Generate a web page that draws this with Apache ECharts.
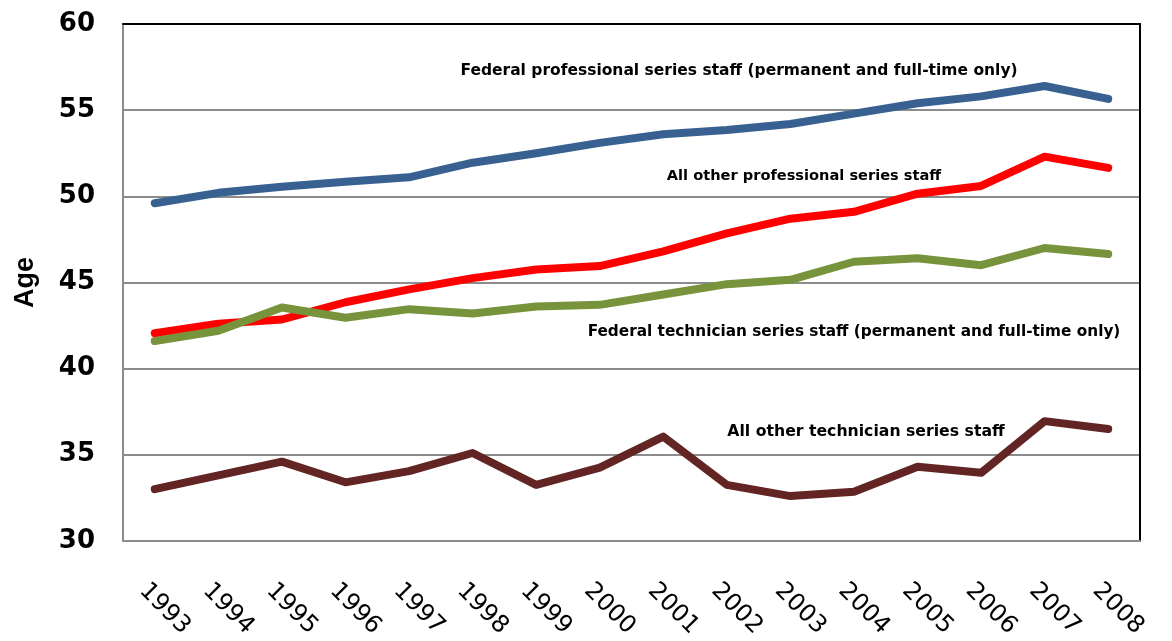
<!DOCTYPE html>
<html>
<head>
<meta charset="utf-8">
<script src="https://cdn.jsdelivr.net/npm/echarts@6/dist/echarts.min.js"></script>
<style>
html,body{margin:0;padding:0;background:#fff;}
#chart{width:1172px;height:641px;}
</style>
</head>
<body>
<div id="chart"></div>
<script>
const years = ['1993','1994','1995','1996','1997','1998','1999','2000','2001','2002','2003','2004','2005','2006','2007','2008'];
const federalProfessional = [49.6, 50.2, 50.55, 50.85, 51.1, 51.95, 52.5, 53.1, 53.6, 53.85, 54.2, 54.8, 55.4, 55.8, 56.4, 55.65];
const otherProfessional = [42.05, 42.6, 42.85, 43.85, 44.6, 45.25, 45.75, 45.95, 46.8, 47.85, 48.7, 49.1, 50.15, 50.6, 52.3, 51.65];
const federalTechnician = [41.6, 42.2, 43.55, 42.95, 43.45, 43.2, 43.6, 43.7, 44.3, 44.9, 45.15, 46.2, 46.4, 46.0, 47.0, 46.65];
const otherTechnician = [33.0, 33.8, 34.6, 33.4, 34.05, 35.1, 33.25, 34.25, 36.05, 33.25, 32.6, 32.85, 34.3, 33.95, 36.95, 36.5];
const yTicks = [30, 35, 40, 45, 50, 55, 60];
const labels = {
  fedPro: 'Federal professional series staff (permanent and full-time only)',
  othPro: 'All other professional series staff',
  fedTech: 'Federal technician series staff (permanent and full-time only)',
  othTech: 'All other technician series staff'
};

const chart = echarts.init(document.getElementById('chart'), null, {renderer: 'canvas'});
const mkLine = (name, data, color) => ({
  name, type: 'line', data, symbol: 'none', smooth: false,
  lineStyle: {width: 8, color, cap: 'round', join: 'round'},
  itemStyle: {color}, z: 3
});
const txt = (text, x, y, size) => ({
  type: 'text', x, y, z: 10,
  style: {text, font: 'bold ' + size + 'px "DejaVu Sans", sans-serif', fill: '#000', textAlign: 'center', textVerticalAlign: 'middle'}
});
chart.setOption({
  animation: false,
  backgroundColor: '#fff',
  grid: {left: 123, right: 32, top: 24, bottom: 100},
  xAxis: [{
    type: 'category', data: years, boundaryGap: true, position: 'bottom',
    axisLine: {show: true, lineStyle: {color: '#8c8c8c', width: 2}},
    axisTick: {show: false},
    axisLabel: {rotate: -45, margin: 58, align: 'center', verticalAlign: 'middle', padding: [0, 0, 0, 28], fontSize: 24, color: '#000', fontFamily: '"DejaVu Sans", sans-serif', interval: 0},
    splitLine: {show: false}
  }, {
    type: 'category', data: years, position: 'top',
    axisLine: {show: true, lineStyle: {color: '#000', width: 2}},
    axisTick: {show: false}, axisLabel: {show: false}
  }],
  yAxis: [{
    type: 'value', min: yTicks[0], max: yTicks[yTicks.length - 1], interval: 5,
    name: 'Age', nameLocation: 'middle', nameGap: 84, nameRotate: 90,
    nameTextStyle: {fontSize: 27, fontWeight: 'bold', color: '#000', fontFamily: '"Liberation Sans", Arial, sans-serif'},
    axisLine: {show: true, lineStyle: {color: '#8c8c8c', width: 2}},
    axisTick: {show: false},
    axisLabel: {margin: 28, fontSize: 26, fontWeight: 'bold', color: '#000', fontFamily: '"DejaVu Sans", sans-serif'},
    splitLine: {show: true, lineStyle: {color: '#8c8c8c', width: 2}}
  }, {
    type: 'value', min: yTicks[0], max: yTicks[yTicks.length - 1], interval: 5, position: 'right',
    axisLine: {show: true, lineStyle: {color: '#000', width: 2}},
    axisTick: {show: false}, axisLabel: {show: false}, splitLine: {show: false}
  }],
  series: [
    mkLine('Federal professional', federalProfessional, '#386192'),
    mkLine('All other professional', otherProfessional, '#ff0000'),
    mkLine('Federal technician', federalTechnician, '#77933c'),
    mkLine('All other technician', otherTechnician, '#632523')
  ],
  graphic: [
    txt(labels.fedPro, 739, 71, 15.5),
    txt(labels.othPro, 804, 176, 14.6),
    txt(labels.fedTech, 854, 332, 15.3),
    txt(labels.othTech, 866, 432, 15.7)
  ]
});
</script>
</body>
</html>
